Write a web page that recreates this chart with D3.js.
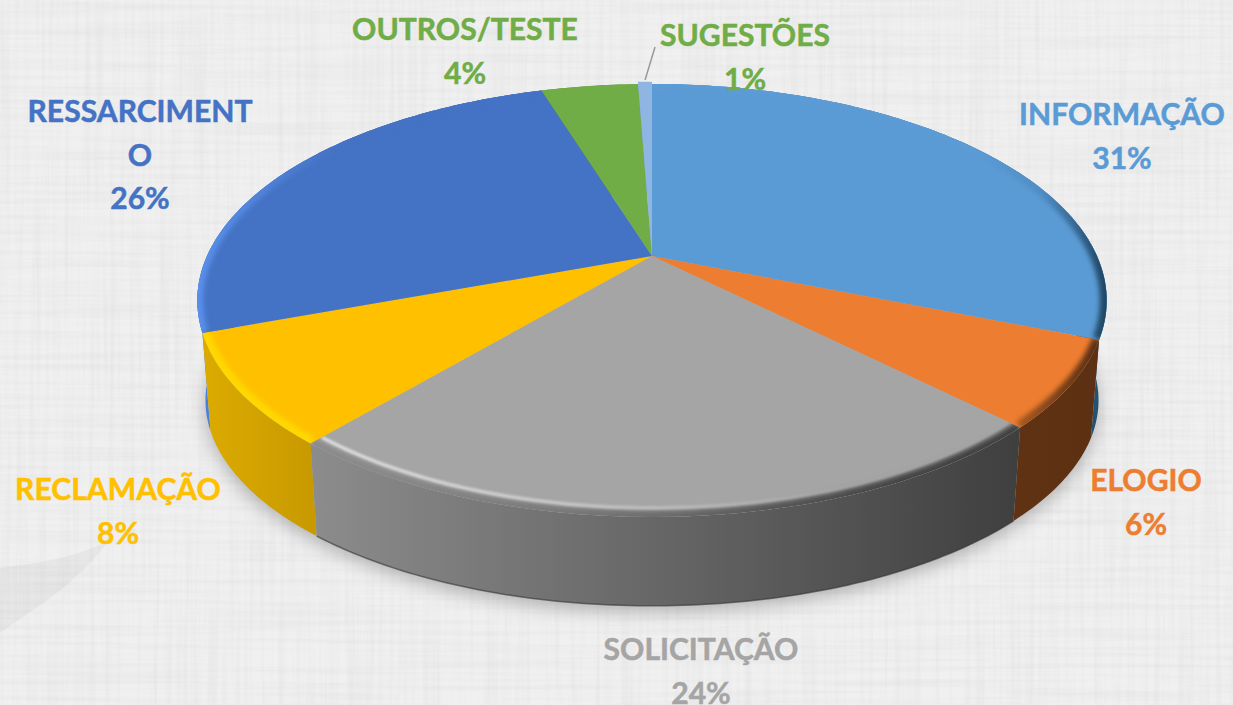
<!DOCTYPE html>
<html><head><meta charset="utf-8">
<script src="https://cdn.jsdelivr.net/npm/d3@7"></script>
<style>html,body{margin:0;padding:0;background:#eee;overflow:hidden}svg{display:block}text{font-family:Lato,Carlito,sans-serif;font-weight:700}</style>
</head><body><svg id="c" width="1233" height="705"></svg>
<script>
const categories = ["INFORMAÇÃO","ELOGIO","SOLICITAÇÃO","RECLAMAÇÃO","RESSARCIMENTO","OUTROS/TESTE","SUGESTÕES"];
const values = [31.1,6.4,23.7,8.2,25.8,4.2,0.6];
const topColors = ["#5B9BD5","#ED7D31","#A5A5A5","#FFC000","#4472C4","#70AD47","#8FB5E2"];
const labelColors = ["#5B9BD5","#ED7D31","#A5A5A5","#FFC000","#4472C4","#70AD47","#70AD47"];
const labelLines = [["INFORMAÇÃO"],["ELOGIO"],["SOLICITAÇÃO"],["RECLAMAÇÃO"],["RESSARCIMENT","O"],["OUTROS/TESTE"],["SUGESTÕES"]];

// layout, separate from the data
const W=1233,H=705, cx=652, cy=256, R=445, S=207.3, K=0.2055;
const labelPos = [[1122,125],[1146,491],[701,660],[118,500],[140,122],[465,40],[745,46]];
const wallStops = [
 ["#3f82bd","#23506f"],["#5f3213","#5c3012"],["#8c8c8c","#3f3f3f"],["#dcab00","#c99a00"],
 ["#4a80dc","#2f5597"],["#5d8f3a","#5d8f3a"],["#7a9fcc","#7a9fcc"]];
// soft outer band of the bevel: left to right along the slice
const bandStops = [
 ["#5B9BD5","#5B9BD5","#5B9BD5","#5B9BD5","#5B9BD5","#5B9BD5","#4f8cc4","#1f4562"],
 ["#a5571f","#7a4019","#5a2f11"],
 ["#8c8c8c","#858585","#7b7b7b","#6c6c6c","#555555","#454545","#414141"],
 ["#FFD800","#FFD800"],
 ["#5a90ec","#4f82d8","#4472C4","#4472C4","#4472C4","#4472C4"],
 ["#70AD47","#70AD47"],["#8FB5E2","#8FB5E2"]];
// thin highlight set just inside the band (solicitação only)
const glintStops = ["#dedede","#cfcfcf","#bcbcbc","#a5a5a5","#a5a5a5"];

const svg=d3.select("#c"), defs=svg.append("defs");
const pieData=d3.pie().sort(null).value(d=>d)(values);
const proj=(a,sx=1,sy=1,d=0,r=1)=>{const u=r*Math.sin(a),v=r*Math.cos(a),w=1+K*v;
  return [cx+R*u/w*sx, cy-S*v/w*sy+d];};
const line=d3.line();
const samples=(p)=>{const n=Math.max(4,Math.ceil((p.endAngle-p.startAngle)*60));
  return d3.range(n+1).map(i=>p.startAngle+(p.endAngle-p.startAngle)*i/n);};
const bot=a=>proj(a,.982,.95,102);
const rOut=i=>categories[i]==="SUGESTÕES"?1.016:1;

// background
const tex=(id,fx,fy,seed,amt)=>{const f=defs.append("filter").attr("id",id).attr("x",0).attr("y",0).attr("width","100%").attr("height","100%");
  f.append("feTurbulence").attr("type","fractalNoise").attr("baseFrequency",fx+" "+fy).attr("numOctaves",3).attr("seed",seed);
  f.append("feColorMatrix").attr("values",`0 0 0 0 .6  0 0 0 0 .6  0 0 0 0 .6  ${amt} 0 0 0 ${-amt*.40}`);};
tex("texH",.005,.2,3,.4); tex("texV",.2,.005,8,.4);
const blur=(id,s)=>defs.append("filter").attr("id",id).attr("x","-10%").attr("y","-10%").attr("width","120%").attr("height","130%")
  .append("feGaussianBlur").attr("stdDeviation",s);
blur("sh",9); blur("rimBlur",2.4); blur("glint",1.3);
svg.append("rect").attr("width",W).attr("height",H).attr("fill","#f0f0f0");
svg.append("rect").attr("width",W).attr("height",H).attr("filter","url(#texH)");
svg.append("rect").attr("width",W).attr("height",H).attr("filter","url(#texV)");
svg.append("path").attr("d",d3.line().curve(d3.curveBasis)([[0,568],[60,560],[100,545],[112,540],[70,585],[30,612],[0,633]])).attr("fill","#000").attr("opacity",.035);

// shadow
const ang=d3.range(0,361,3).map(d=>d*Math.PI/180);
svg.append("path").attr("d",line(ang.map(a=>bot(a)))+"Z").attr("transform","translate(0,6)").attr("fill","#555").attr("opacity",.4).attr("filter","url(#sh)");

// gradients
const grad=(id,cols,x0,x1)=>{const g=defs.append("linearGradient").attr("id",id).attr("gradientUnits","userSpaceOnUse").attr("x1",x0).attr("x2",x1).attr("y1",0).attr("y2",0);
  g.selectAll("stop").data(cols).join("stop").attr("offset",(d,i)=>i/(cols.length-1)).attr("stop-color",d=>d);};
pieData.forEach((p,i)=>{const xs=samples(p).map(a=>proj(a)[0]);const e=d3.extent(xs);
  grad("wall"+i,wallStops[i],e[0],e[1]);grad("rim"+i,bandStops[i],e[0],e[1]);
  if(categories[i]==="SOLICITAÇÃO") grad("glintG",glintStops,e[0],e[1]);
  defs.append("clipPath").attr("id","clip"+i).append("path").attr("d",line([[cx,cy],...samples(p).map(a=>proj(a))])+"Z");});

// walls, back to front
const wallOrder=[5,6,0,4,1,3,2];
svg.append("g").selectAll("path").data(wallOrder).join("path")
 .attr("d",i=>{const s=samples(pieData[i]);return line([...s.map(a=>proj(a)),...s.slice().reverse().map(bot)])+"Z";})
 .attr("fill",i=>`url(#wall${i})`);

// dark lip of the bottom edge
svg.append("path").attr("d",line(samples(pieData[2]).map(bot))).attr("fill","none").attr("stroke","#333").attr("stroke-width",1.5).attr("opacity",.6);

// top face
const face=svg.append("g");
face.selectAll("path").data(pieData).join("path")
 .attr("d",(p,i)=>line([[cx,cy],...samples(p).map(a=>proj(a,1,1,0,rOut(i)))])+"Z")
 .attr("fill",(p,i)=>topColors[i]);
// bevel
const bev=svg.append("g");
pieData.forEach((p,i)=>{ if(i>=5) return;
  const g=bev.append("g").attr("clip-path",`url(#clip${i})`);
  g.append("path").attr("d",line(samples(p).map(a=>proj(a,1,1,0,1))))
   .attr("fill","none").attr("stroke",`url(#rim${i})`).attr("stroke-width",i===3?15:(i===4?12:14)).attr("filter","url(#rimBlur)");
  if(categories[i]==="SOLICITAÇÃO")
   g.append("path").attr("d",line(samples(p).map(a=>proj(a,1,1,0,.972))))
    .attr("fill","none").attr("stroke","url(#glintG)").attr("stroke-width",3.5).attr("filter","url(#glint)");
});

// leader line
const a6=(pieData[6].startAngle+pieData[6].endAngle)/2, q=proj(a6);
svg.append("line").attr("x1",q[0]).attr("y1",q[1]-4).attr("x2",q[0]+10).attr("y2",q[1]-37).attr("stroke","#999").attr("stroke-width",1.5);

// labels
const fmt=d3.format(".0%"), total=d3.sum(values);
const lab=svg.append("g").attr("text-anchor","middle").attr("font-size",30.1);
categories.forEach((c,i)=>{
  const lines=[...labelLines[i],fmt(values[i]/total)];
  const t=lab.append("text").attr("fill",labelColors[i]).attr("stroke",labelColors[i]).attr("stroke-width",.5);
  lines.forEach((l,j)=>t.append("tspan").attr("x",labelPos[i][0]).attr("y",labelPos[i][1]+j*43.5).text(l));
});
</script></body></html>
